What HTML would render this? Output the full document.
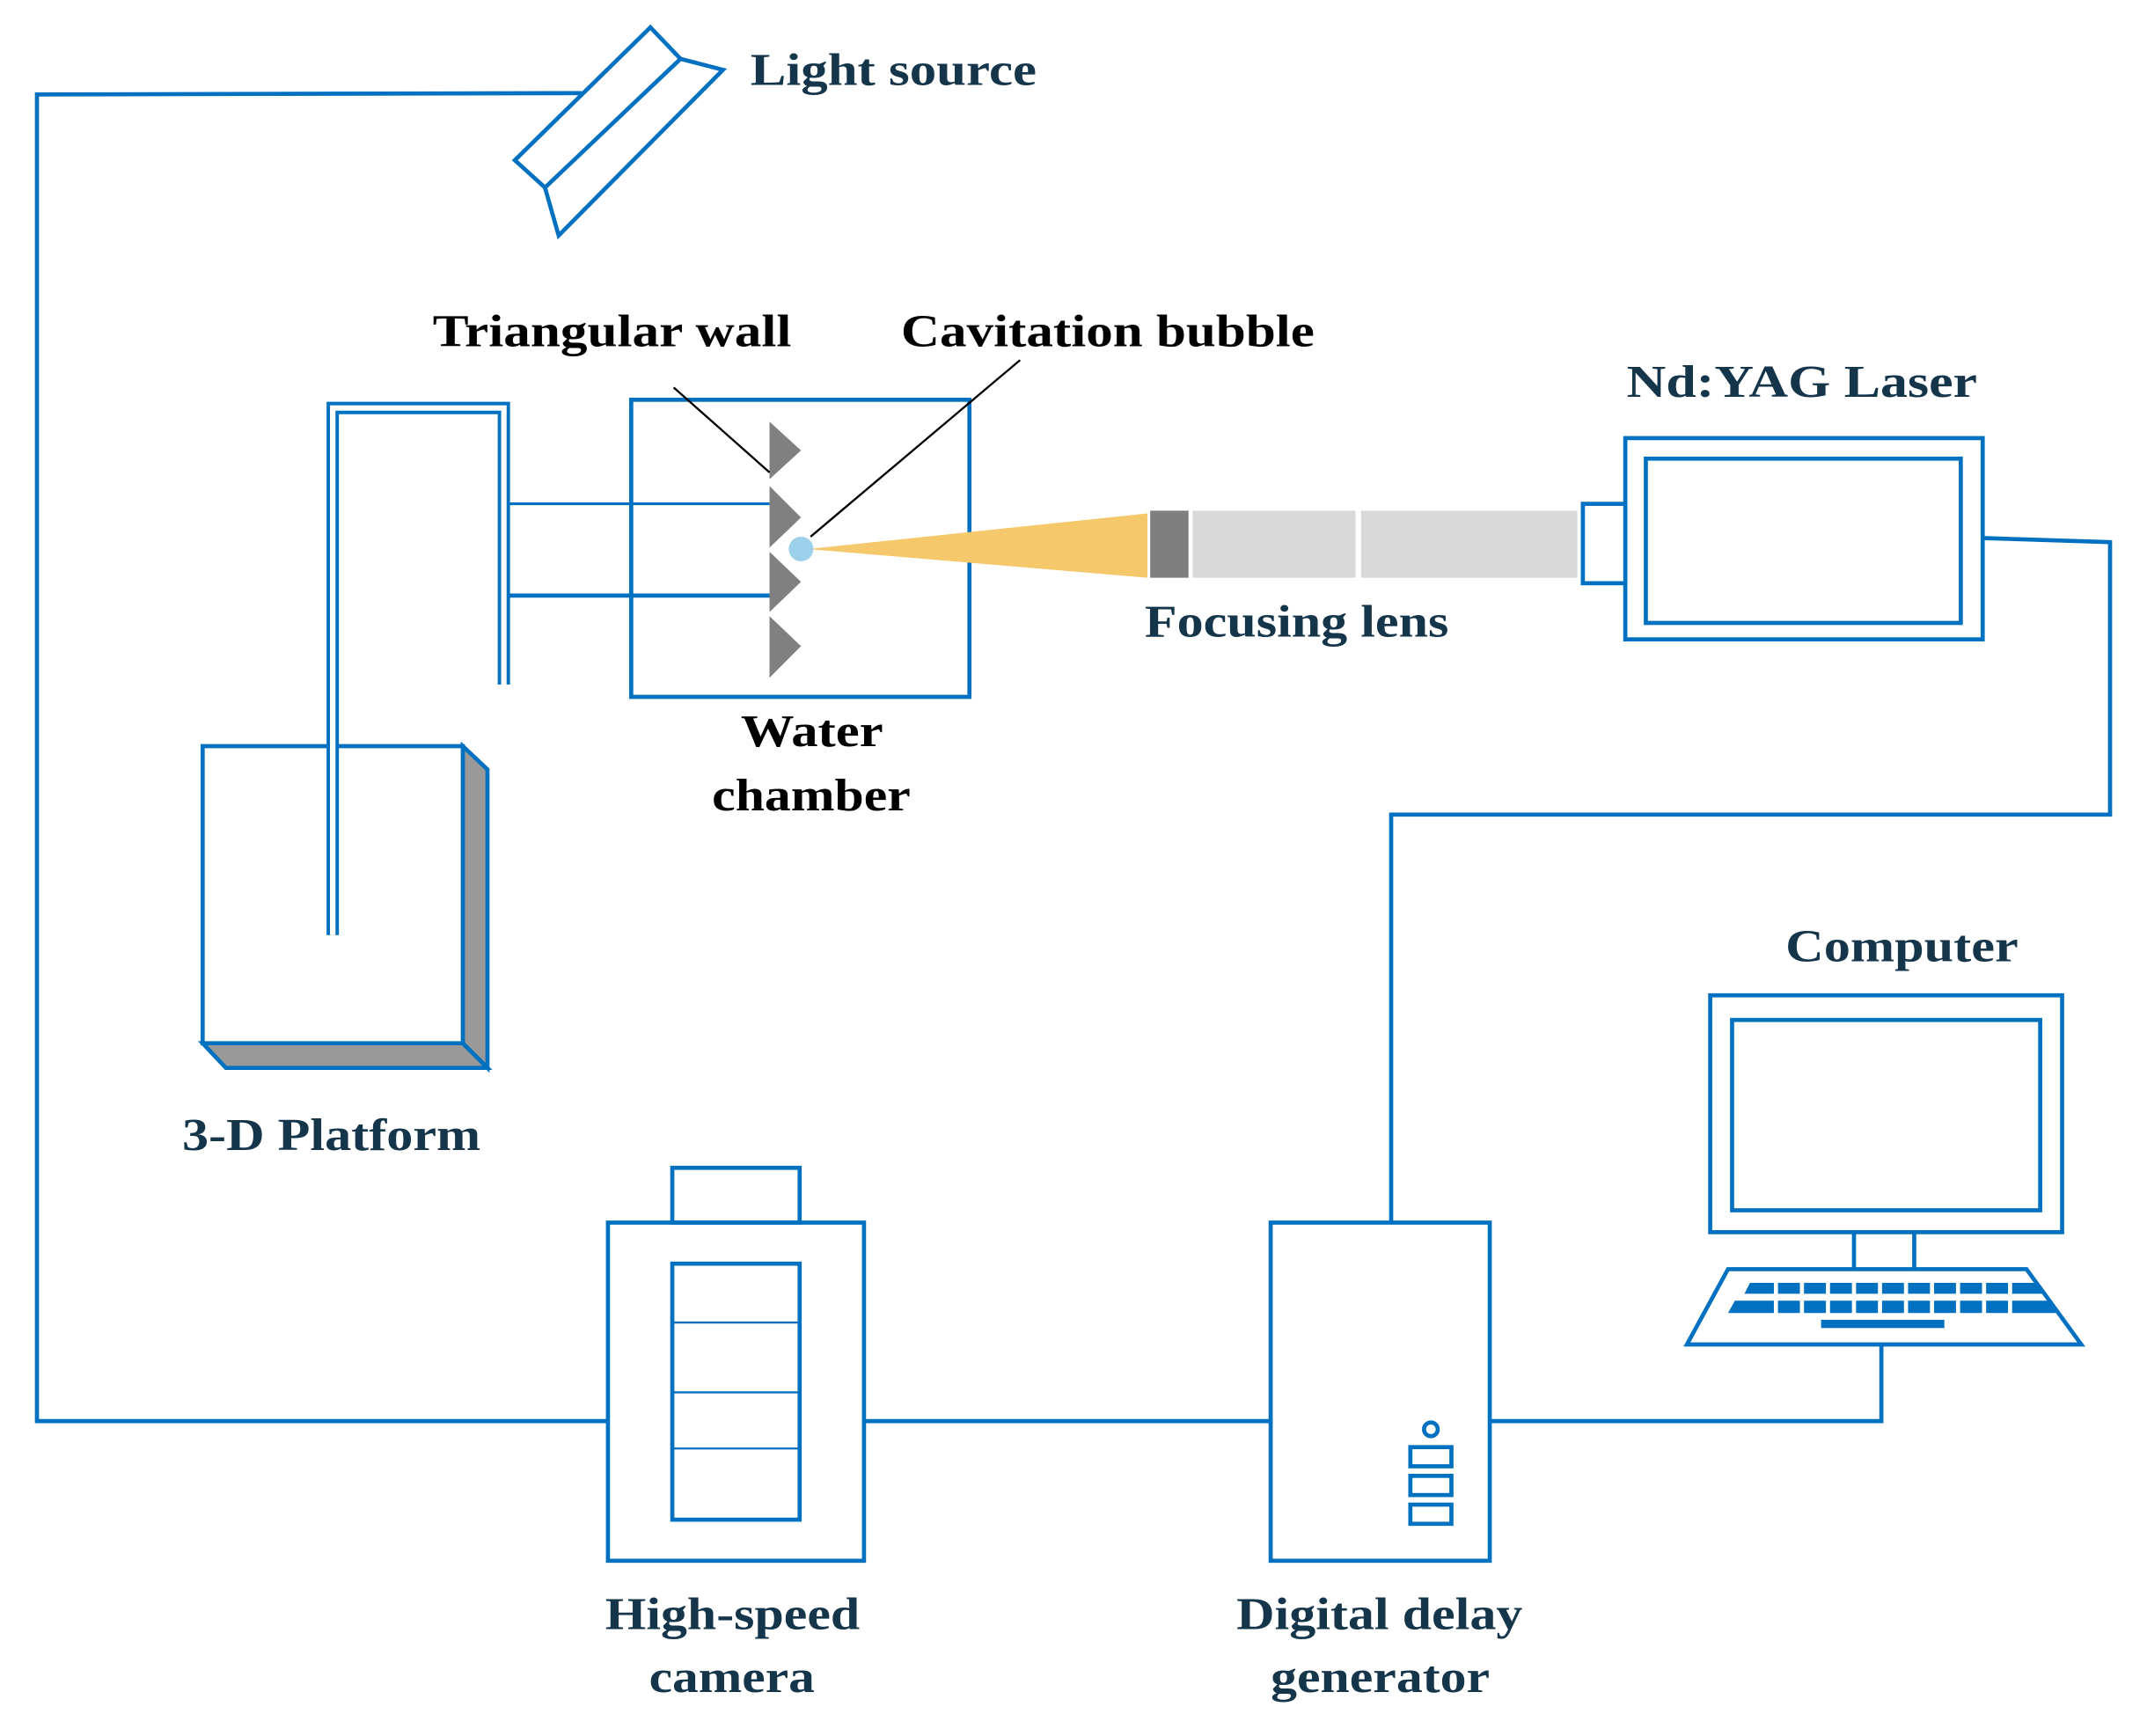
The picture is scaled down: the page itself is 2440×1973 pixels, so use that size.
<!DOCTYPE html>
<html><head><meta charset="utf-8"><style>
html,body{margin:0;padding:0;background:#fff;}
svg{display:block;}
text{font-family:"Liberation Serif",serif;font-weight:bold;font-size:33px;}
.n{fill:#15354a;}
.k{fill:#000;}
</style></head><body>
<svg width="2440" height="1973" viewBox="0 0 1568 1268" preserveAspectRatio="none" xmlns="http://www.w3.org/2000/svg">
<g fill="none" stroke="#0070c0" stroke-width="3">
<polyline points="425,68 27,69 27,1038 444,1038"/>
<polygon points="475,20 497,43 528,51 408,172 398,137 376,117" fill="#fff"/>
<line x1="497" y1="43" x2="398" y2="137"/>
<rect x="461" y="292" width="247" height="217"/>
<line x1="368" y1="368" x2="562" y2="368" stroke-width="2"/>
<line x1="368" y1="435" x2="562" y2="435"/>
<rect x="1187" y="320" width="261" height="147"/>
<rect x="1202" y="335" width="230" height="120"/>
<rect x="1156" y="368" width="31" height="58" fill="#fff"/>
<polyline points="1448,393 1541,396 1541,595 1016,595 1016,893"/>
<rect x="444" y="893" width="187" height="247"/>
<rect x="491" y="853" width="93" height="40"/>
<rect x="491" y="923" width="93" height="187"/>
<line x1="491" y1="966" x2="584" y2="966" stroke-width="1.5"/>
<line x1="491" y1="1017" x2="584" y2="1017" stroke-width="1.5"/>
<line x1="491" y1="1058" x2="584" y2="1058" stroke-width="1.5"/>
<line x1="631" y1="1038" x2="928" y2="1038"/>
<polyline points="1088,1038 1374,1038 1374,983"/>
<rect x="928" y="893" width="160" height="247"/>
<circle cx="1045" cy="1044" r="5"/>
<rect x="1030" y="1057" width="30" height="14"/>
<rect x="1030" y="1078" width="30" height="14"/>
<rect x="1030" y="1099" width="30" height="14"/>
<rect x="1249" y="727" width="257" height="173"/>
<rect x="1265" y="745" width="225" height="139"/>
<line x1="1354" y1="900" x2="1354" y2="927"/>
<line x1="1398" y1="900" x2="1398" y2="927"/>
<polygon points="1262,927 1480,927 1520,982 1232,982"/>
</g>
<g fill="#0070c0">
<path d="M1278,937 h210 l4,8 h-218z M1267,950 h230 l5,9 h-240z"/>
<rect x="1330" y="964" width="90" height="6"/>
</g>
<g stroke="#fff" stroke-width="3">
<path d="M1297,935v26 M1316,935v26 M1335,935v26 M1354,935v26 M1373,935v26 M1392,935v26 M1411,935v26 M1430,935v26 M1449,935v26 M1468,935v26"/>
</g>
<polygon points="338,545 356,562 356,780 338,762" fill="#999" stroke="#0070c0" stroke-width="3"/>
<polygon points="148,762 338,762 356,780 165,780" fill="#999" stroke="#0070c0" stroke-width="3"/>
<rect x="148" y="545" width="190" height="217" fill="#fff" stroke="#0070c0" stroke-width="3"/>
<polyline points="243,683 243,298 368,298 368,500" fill="none" stroke="#0070c0" stroke-width="9" stroke-linejoin="miter"/>
<polyline points="243,683 243,298 368,298 368,500" fill="none" stroke="#fff" stroke-width="4"/>
<g fill="#808080">
<polygon points="562,308 585,329 562,350"/>
<polygon points="562,355 585,378 562,400"/>
<polygon points="562,403 585,425 562,447"/>
<polygon points="562,450 585,472 562,495"/>
</g>
<polygon points="590,401 838,375 838,422" fill="#f5c96b"/>
<rect x="840" y="373" width="28" height="49" fill="#7f7f7f"/>
<rect x="871" y="373" width="119" height="49" fill="#d9d9d9"/>
<rect x="994" y="373" width="158" height="49" fill="#d9d9d9"/>
<circle cx="585" cy="401" r="9" fill="#9dd0ea"/>
<line x1="492" y1="283" x2="562" y2="345" stroke="#000" stroke-width="1.5"/>
<line x1="745" y1="263" x2="592" y2="392" stroke="#000" stroke-width="1.5"/>
<text class="n" x="548" y="62" textLength="209" lengthAdjust="spacingAndGlyphs">Light source</text>
<text class="k" x="316" y="253" textLength="262" lengthAdjust="spacingAndGlyphs">Triangular wall</text>
<text class="k" x="658" y="253" textLength="302" lengthAdjust="spacingAndGlyphs">Cavitation bubble</text>
<text class="n" x="1188" y="290" textLength="256" lengthAdjust="spacingAndGlyphs">Nd:YAG Laser</text>
<text class="n" x="836" y="465" textLength="222" lengthAdjust="spacingAndGlyphs">Focusing lens</text>
<text class="k" x="541" y="545" textLength="104" lengthAdjust="spacingAndGlyphs">Water</text>
<text class="k" x="520" y="592" textLength="145" lengthAdjust="spacingAndGlyphs">chamber</text>
<text class="n" x="133" y="840" textLength="218" lengthAdjust="spacingAndGlyphs">3-D Platform</text>
<text class="n" x="1304" y="702" textLength="170" lengthAdjust="spacingAndGlyphs">Computer</text>
<text class="n" x="442" y="1190" textLength="186" lengthAdjust="spacingAndGlyphs">High-speed</text>
<text class="n" x="474" y="1236" textLength="121" lengthAdjust="spacingAndGlyphs">camera</text>
<text class="n" x="903" y="1190" textLength="209" lengthAdjust="spacingAndGlyphs">Digital delay</text>
<text class="n" x="928" y="1236" textLength="160" lengthAdjust="spacingAndGlyphs">generator</text>
</svg>
</body></html>
